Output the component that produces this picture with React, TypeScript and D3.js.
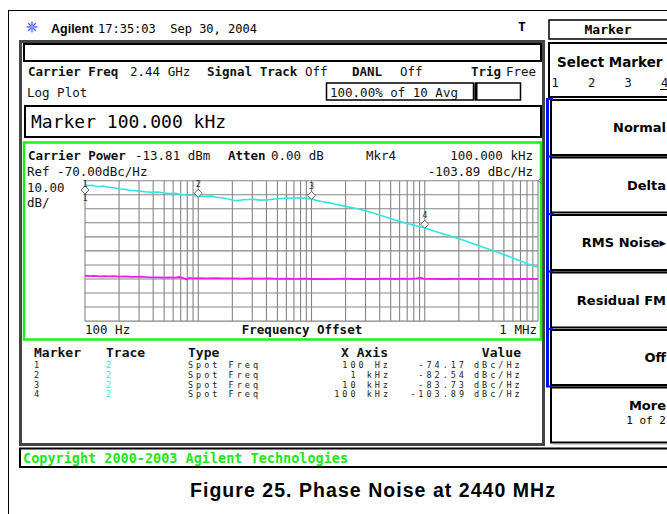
import React from 'react';
import * as d3 from 'd3';

// trace 2 (carrier phase noise), [offset Hz, dBc/Hz]
const carrierTrace: [number, number][] = [
  [100, -73.0], [108, -73.4], [115, -73.2], [125, -73.9], [135, -74.1], [145, -73.8],
  [155, -74.4], [170, -74.9], [185, -75.2], [200, -75.8], [220, -76.1], [245, -76.8],
  [270, -77.0], [300, -77.4], [340, -77.9], [390, -78.3], [440, -78.1], [500, -78.8],
  [560, -79.2], [630, -79.0], [700, -79.8], [790, -80.2], [880, -80.4], [1000, -80.8],
  [1150, -81.2], [1300, -81.0], [1450, -81.8], [1650, -82.3], [1850, -83.0], [2050, -83.9],
  [2200, -84.2], [2500, -83.6], [2800, -83.4], [3100, -83.3], [3500, -83.8], [4000, -83.7],
  [4500, -83.2], [5000, -82.9], [5600, -82.7], [6300, -82.5], [7000, -82.3], [8000, -82.2],
  [9000, -82.6], [10000, -83.0], [11000, -84.0], [12500, -85.0], [14500, -85.8], [17000, -87.1],
  [20000, -88.3], [25000, -89.8], [30000, -91.4], [35000, -93.0], [40000, -94.4], [48000, -96.5],
  [56000, -98.1], [66000, -100.0], [79000, -101.6], [90000, -102.8], [100000, -103.6],
  [120000, -105.8], [140000, -107.5], [160000, -108.9], [190000, -110.8], [220000, -112.4],
  [260000, -114.5], [310000, -116.7], [370000, -118.9], [440000, -121.0], [520000, -123.1],
  [610000, -125.3], [720000, -127.6], [850000, -129.8], [1000000, -131.7],
];

// noise floor trace (magenta)
const floorTrace: [number, number][] = [
  [100, -137.7], [110, -138.0], [120, -137.8], [135, -138.1], [150, -137.9], [165, -138.2],
  [180, -138.0], [200, -138.3], [225, -138.1], [250, -138.4], [280, -138.5], [310, -138.3],
  [350, -138.7], [400, -138.9], [450, -138.8], [500, -139.1], [560, -138.9], [620, -139.0],
  [680, -138.6], [740, -139.4], [790, -140.3], [830, -139.2], [900, -139.5], [1000, -139.4],
  [1200, -139.5], [1400, -139.4], [1700, -139.6], [2000, -139.5], [2400, -139.7], [2900, -139.6],
  [3500, -139.8], [4200, -139.6], [5000, -139.9], [6000, -139.7], [7200, -139.9], [8600, -139.8],
  [10000, -140.0], [12000, -139.9], [15000, -140.1], [19000, -139.8], [24000, -140.0], [30000, -139.9],
  [37000, -140.0], [45000, -139.7], [55000, -140.0], [65000, -139.8], [75000, -139.9], [85000, -139.5],
  [92000, -139.0], [97000, -139.8], [110000, -139.9], [150000, -140.0], [200000, -139.9],
  [300000, -140.0], [400000, -139.9], [550000, -140.0], [700000, -139.9], [850000, -140.0],
  [1000000, -139.9],
];

const markerIds = ['1', '2', '3', '4'];
const markerFreqs = [100, 1000, 10000, 100000];
const markerValues = [-74.17, -82.54, -83.73, -103.89];
const markerXLabels = ['100 Hz', '1 kHz', '10 kHz', '100 kHz'];
const markerValueLabels = ['-74.17', '-82.54', '-83.73', '-103.89'];

const refLevel = -70;
const dbPerDiv = 10;
const divisions = 10;
const decades = [100, 1000, 10000, 100000];

const softkeys: string[][] = [['Normal'], ['Delta'], ['RMS Noise\u25B8'], ['Residual FM'], ['Off'], ['More', '1 of 2']];

const MONO = '"DejaVu Sans Mono", monospace';
const SANS = '"Liberation Sans", Arial, sans-serif';
const DJS = '"DejaVu Sans", sans-serif';

const W = 667;
const H = 514;

export default function App() {
  const x = d3.scaleLog().domain([100, 1e6]).range([85, 538]);
  const y = d3.scaleLinear()
    .domain([refLevel, refLevel - dbPerDiv * divisions])
    .range([180.7, 321.1]);

  const line = d3.line<[number, number]>()
    .x(d => x(d[0]))
    .y(d => y(d[1]));

  const gridFreqs: number[] = [];
  decades.forEach(d => {
    for (let m = 1; m <= 9; m++) gridFreqs.push(d * m);
  });
  gridFreqs.push(1e6);
  const gridDb = d3.range(0, divisions + 1).map(i => refLevel - i * dbPerDiv);

  // diamond offsets (marker 1 sits under its trace point, others above)
  const diamondShift = [3.5, -5, -4.5, -4];

  const btnTop = 99;
  const btnStep = 57.5;
  const btnH = 55;

  const star = d3.range(8).map(i => (i * Math.PI) / 4);

  return (
    <svg width={W} height={H} style={{ position: 'absolute', left: 0, top: 0, background: '#fff' }}>
      <rect x={0} y={0} width={W} height={H} fill="#fff" />
      {/* page frame */}
      <line x1={8} y1={10.5} x2={W} y2={10.5} stroke="#000" strokeWidth={1} />
      <line x1={8.5} y1={10} x2={8.5} y2={H} stroke="#000" strokeWidth={1} />

      {/* header */}
      <g transform="translate(32,27)">
        {star.map((a, i) => (
          <line key={i} x1={0} y1={0} x2={Math.cos(a) * 5.5} y2={Math.sin(a) * 5.5} stroke="#3a4cff" strokeWidth={1.2} />
        ))}
        <circle r={1.8} fill="#8fa0ff" />
      </g>
      <text x={51} y={33} fontFamily={SANS} fontWeight="bold" fontSize={12.5}>Agilent</text>
      <text x={98} y={33} fontFamily={MONO} fontSize={12} xmlSpace="preserve">17:35:03  Sep 30, 2004</text>
      <text x={518} y={31} fontFamily={MONO} fontWeight="bold" fontSize={13}>T</text>

      {/* main screen frame */}
      <rect x={20.5} y={41.5} width={523} height={403} fill="none" stroke="#444" strokeWidth={3} />
      <rect x={24} y={44} width={517} height={17} fill="none" stroke="#000" strokeWidth={2} />

      <g fontFamily={MONO} fontSize={12.5} fill="#111">
        <text x={28} y={76} fontWeight="bold">Carrier Freq</text>
        <text x={130} y={76}>2.44 GHz</text>
        <text x={207} y={76} fontWeight="bold">Signal Track</text>
        <text x={305} y={76}>Off</text>
        <text x={352} y={76} fontWeight="bold">DANL</text>
        <text x={400} y={76}>Off</text>
        <text x={471} y={76} fontWeight="bold">Trig</text>
        <text x={506} y={76}>Free</text>
        <text x={27} y={97}>Log Plot</text>
        <text x={330} y={97}>100.00% of 10 Avg</text>
      </g>
      <rect x={326.5} y={83} width={147} height={17} fill="none" stroke="#000" strokeWidth={1.5} />
      <rect x={475.5} y={83} width={45} height={17} fill="none" stroke="#000" strokeWidth={1.5} />
      <line x1={476} y1={83} x2={476} y2={100} stroke="#000" strokeWidth={3} />

      <rect x={25} y={106} width={516} height={31} fill="none" stroke="#000" strokeWidth={2} />
      <text x={31} y={128} fontFamily={MONO} fontSize={18}>Marker 100.000 kHz</text>

      {/* green plot panel */}
      <rect x={24} y={142.5} width={517} height={197} fill="none" stroke="#1bf01b" strokeWidth={2.5} />
      <g fontFamily={MONO} fontSize={12.5} fill="#111">
        <text x={28} y={160} fontWeight="bold">Carrier Power</text>
        <text x={135} y={160}>-13.81 dBm</text>
        <text x={228} y={160} fontWeight="bold">Atten</text>
        <text x={271} y={160}>0.00 dB</text>
        <text x={366} y={160}>Mkr4</text>
        <text x={533} y={160} textAnchor="end">100.000 kHz</text>
        <text x={27} y={176}>Ref -70.00dBc/Hz</text>
        <text x={533} y={176} textAnchor="end">-103.89 dBc/Hz</text>
        <text x={27} y={191.5}>10.00</text>
        <text x={27} y={206.5}>dB/</text>
        <text x={85} y={334}>100 Hz</text>
        <text x={302} y={334} textAnchor="middle" fontWeight="bold">Frequency Offset</text>
        <text x={537} y={334} textAnchor="end">1 MHz</text>
      </g>

      {/* graticule */}
      <g stroke="#858585" strokeWidth={1.1}>
        {gridFreqs.map((f, i) => (
          <line key={'v' + i} x1={x(f)} x2={x(f)} y1={y(refLevel)} y2={y(refLevel - dbPerDiv * divisions)} />
        ))}
        {gridDb.map((d, i) => (
          <line key={'h' + i} x1={x(100)} x2={x(1e6)} y1={y(d)} y2={y(d)} />
        ))}
      </g>
      <path d={`M${x(1e6) + 4},${y(refLevel) - 3}L${x(1e6)},${y(refLevel)}L${x(1e6) + 4},${y(refLevel) + 3}`} fill="none" stroke="#777" strokeWidth={1} />

      {/* traces */}
      <path d={line(floorTrace) || ''} fill="none" stroke="#f01cf0" strokeWidth={1.8} />
      <path d={line(carrierTrace) || ''} fill="none" stroke="#2fe6e6" strokeWidth={1.6} />

      {/* markers */}
      {markerFreqs.map((f, i) => {
        const mx = x(f);
        const my = y(markerValues[i]) + diamondShift[i];
        return (
          <g key={'m' + i}>
            <path d={`M${mx},${my - 4}L${mx + 4},${my}L${mx},${my + 4}L${mx - 4},${my}Z`} fill="#f4f4f4" stroke="#666" strokeWidth={1} />
            <text x={mx} y={i === 0 ? my - 3.5 : my - 6.5} textAnchor="middle" fontFamily={MONO} fontSize={8.5} fill="#333">{markerIds[i]}</text>
            {i === 0 && (
              <text x={mx} y={my + 11} textAnchor="middle" fontFamily={MONO} fontSize={8.5} fill="#333">{markerIds[i]}</text>
            )}
          </g>
        );
      })}

      {/* marker table */}
      <g fontFamily={MONO} fontSize={13} fontWeight="bold" fill="#111">
        <text x={34} y={357}>Marker</text>
        <text x={106} y={357}>Trace</text>
        <text x={188} y={357}>Type</text>
        <text x={388} y={357} textAnchor="end">X Axis</text>
        <text x={521} y={357} textAnchor="end">Value</text>
      </g>
      <g fontFamily={MONO} fontSize={8.5} letterSpacing={3} fill="#222">
        {markerIds.map((id, i) => {
          const ry = 368 + i * 9.8;
          return (
            <g key={'r' + i}>
              <text x={34} y={ry}>{id}</text>
              <text x={106} y={ry} fill="#2fe6e6">2</text>
              <text x={188} y={ry}>Spot Freq</text>
              <text x={391} y={ry} textAnchor="end">{markerXLabels[i]}</text>
              <text x={467} y={ry} textAnchor="end">{markerValueLabels[i]}</text>
              <text x={474} y={ry}>dBc/Hz</text>
            </g>
          );
        })}
      </g>

      {/* status bar */}
      <rect x={20} y={448.5} width={660} height={18.5} fill="none" stroke="#000" strokeWidth={2} />
      <text x={23} y={463} fontFamily={MONO} fontWeight="bold" fontSize={13.5} fill="#1ee61e">Copyright 2000-2003 Agilent Technologies</text>

      {/* softkey panel */}
      <rect x={549} y={20} width={130} height={19} fill="none" stroke="#000" strokeWidth={1.5} />
      <text x={608} y={34} textAnchor="middle" fontFamily={MONO} fontWeight="bold" fontSize={13}>Marker</text>
      <rect x={549} y={43} width={130} height={54} fill="none" stroke="#000" strokeWidth={2} />
      <text x={557} y={67} fontFamily={DJS} fontWeight="bold" fontSize={13.5}>Select Marker</text>
      <g fontFamily={MONO} fontSize={12} fill="#111">
        {markerIds.map((id, i) => (
          <text key={'s' + i} x={551.5 + i * 36.5} y={87}>{id}</text>
        ))}
      </g>
      <line x1={660} y1={89.5} x2={667} y2={89.5} stroke="#111" strokeWidth={1} />

      {softkeys.map((lab, i) => {
        const top = btnTop + i * btnStep;
        return (
          <g key={'k' + i}>
            <rect x={551} y={top + 1} width={130} height={btnH} fill="none" stroke="#000" strokeWidth={2} />
            <line x1={553} y1={top + btnH + 2.5} x2={W} y2={top + btnH + 2.5} stroke="#999" strokeWidth={1} />
            {lab.length === 1 ? (
              <text x={666} y={top + 33} textAnchor="end" fontFamily={DJS} fontWeight="bold" fontSize={13}>{lab[0]}</text>
            ) : (
              <>
                <text x={666} y={top + 23} textAnchor="end" fontFamily={DJS} fontWeight="bold" fontSize={13}>{lab[0]}</text>
                <text x={666} y={top + 37} textAnchor="end" fontFamily={MONO} fontSize={11}>{lab[1]}</text>
              </>
            )}
          </g>
        );
      })}
      {/* active-key bracket */}
      <line x1={547.5} y1={btnTop} x2={547.5} y2={btnTop + btnStep * 5} stroke="#0010e8" strokeWidth={3} />
      {d3.range(6).map(i => (
        <line key={'b' + i} x1={546} y1={btnTop + i * btnStep} x2={553} y2={btnTop + i * btnStep} stroke="#0010e8" strokeWidth={2} />
      ))}

      {/* caption */}
      <text x={190} y={497} fontFamily={SANS} fontWeight="bold" fontSize={19.5} textLength={365} lengthAdjust="spacing">Figure 25. Phase Noise at 2440 MHz</text>
    </svg>
  );
}
